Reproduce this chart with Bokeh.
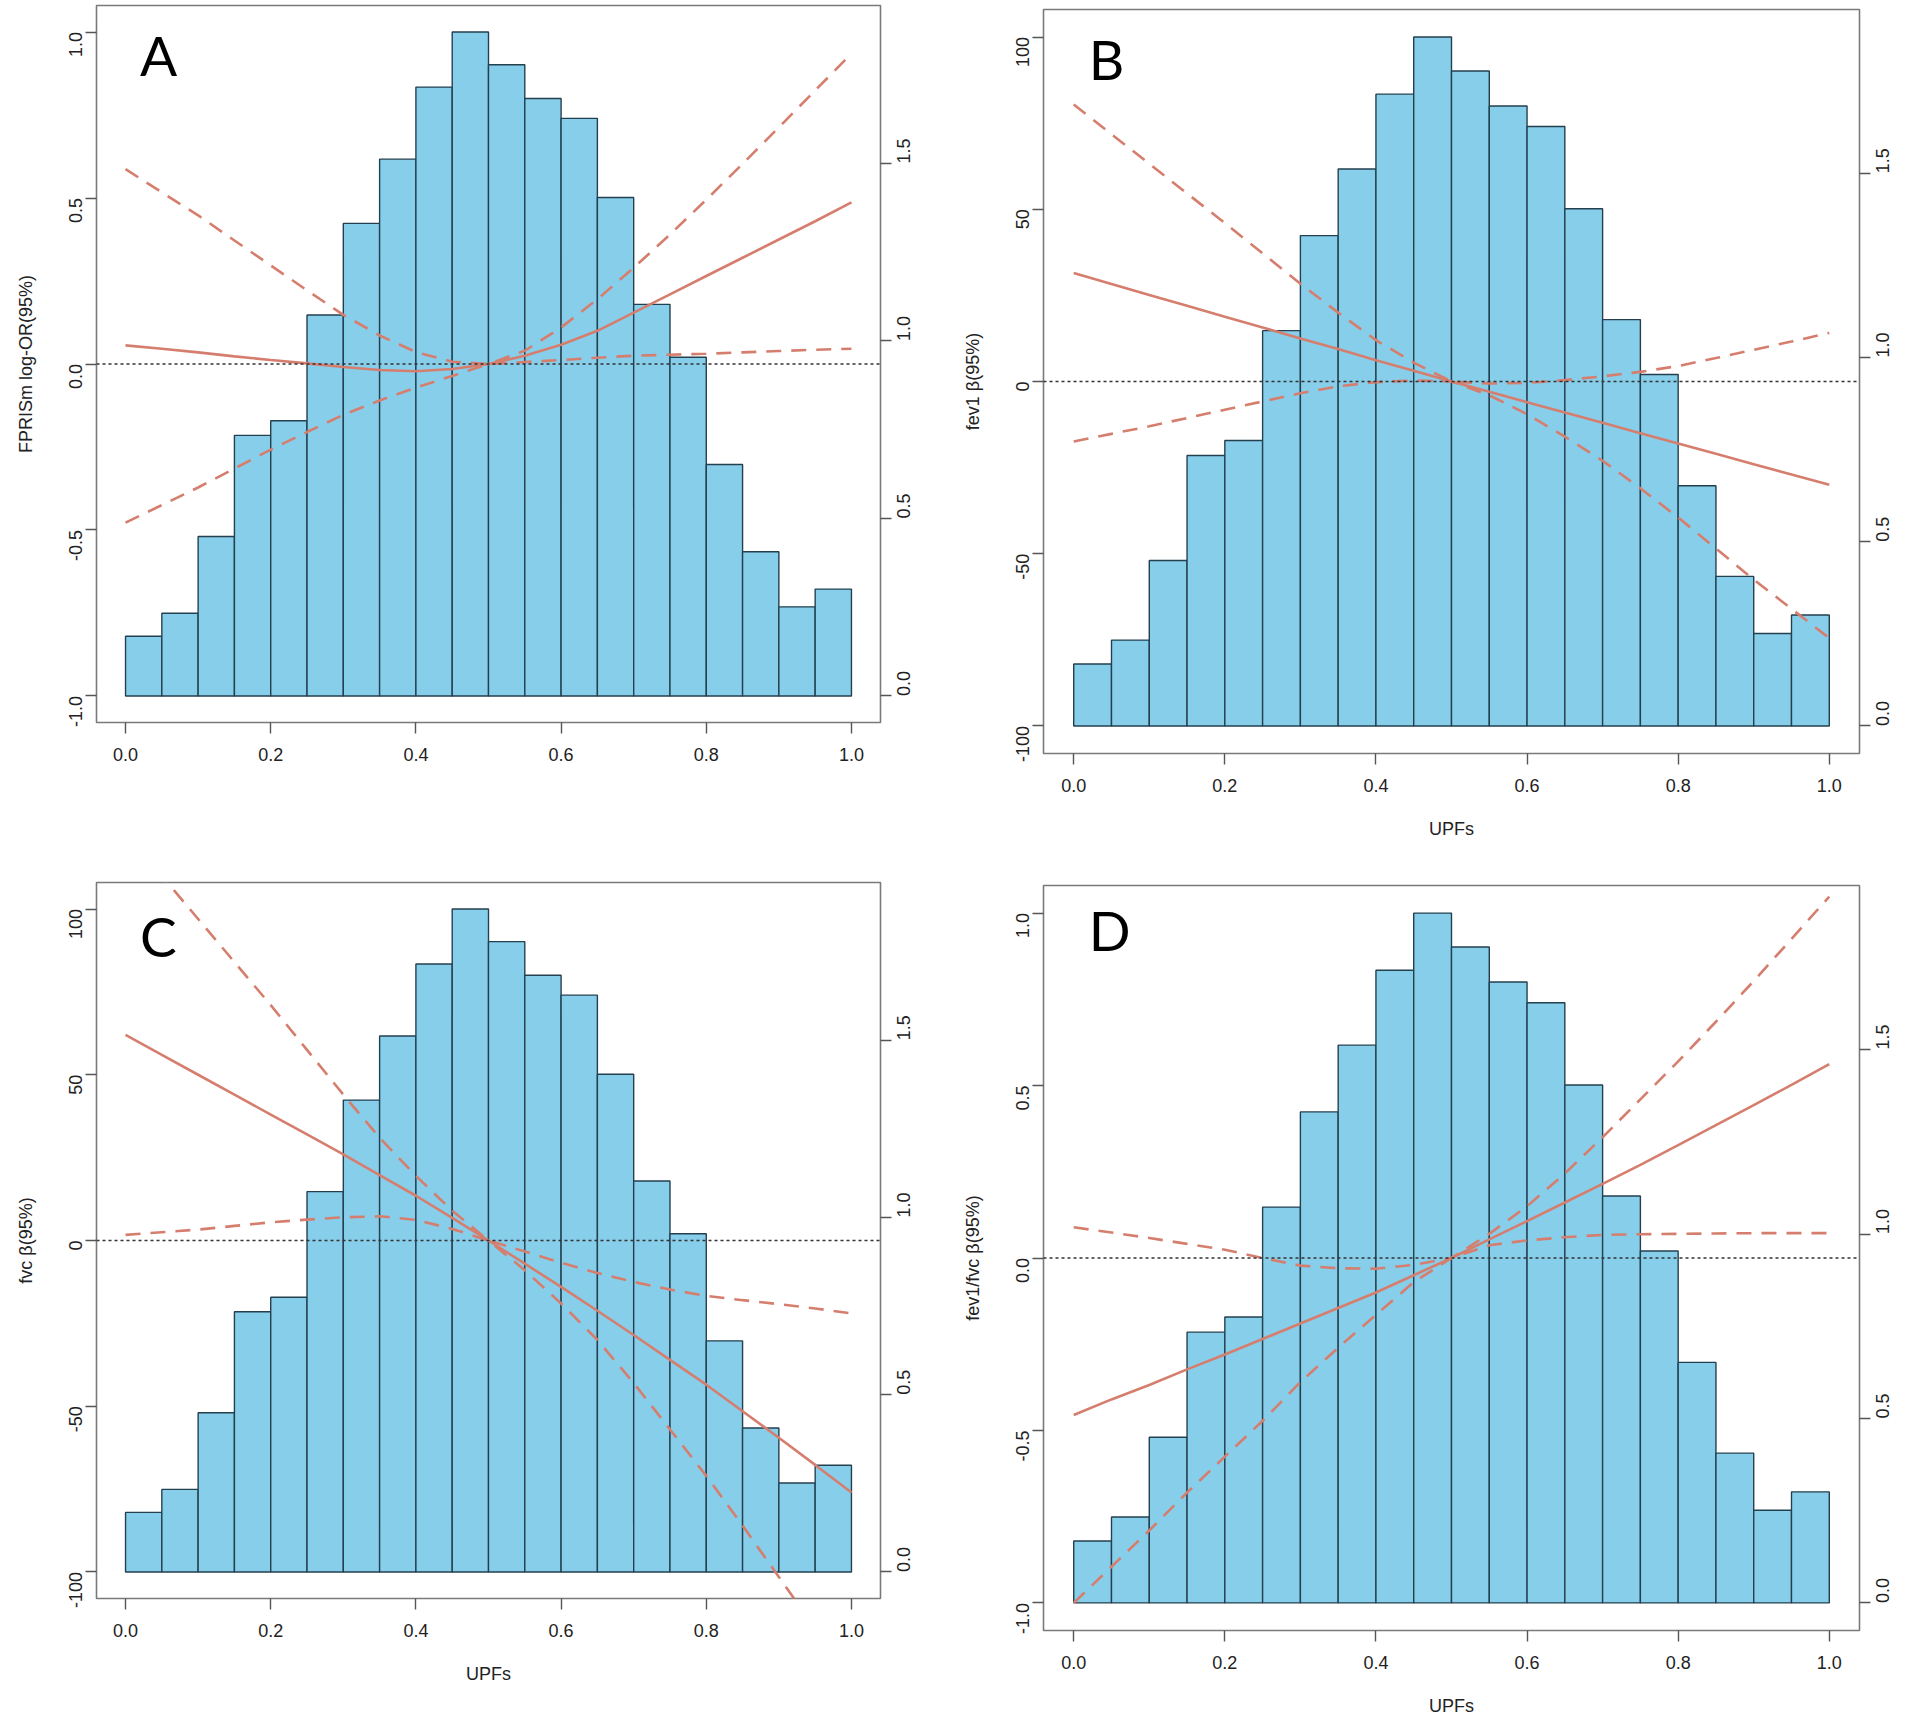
import math
from bokeh.plotting import figure
from bokeh.models import Range1d, LinearAxis, FixedTicker, PrintfTickFormatter, Span, Label
from bokeh.layouts import row, column
from bokeh.embed import file_html
from bokeh.resources import INLINE

# ---------------- data ----------------
bin_left = [0.00, 0.05, 0.10, 0.15, 0.20, 0.25, 0.30, 0.35, 0.40, 0.45,
            0.50, 0.55, 0.60, 0.65, 0.70, 0.75, 0.80, 0.85, 0.90, 0.95]
bin_right = [0.05, 0.10, 0.15, 0.20, 0.25, 0.30, 0.35, 0.40, 0.45, 0.50,
             0.55, 0.60, 0.65, 0.70, 0.75, 0.80, 0.85, 0.90, 0.95, 1.00]
# histogram density of UPFs (right axis)
density = [0.168, 0.233, 0.449, 0.734, 0.775, 1.073, 1.331, 1.512, 1.715, 1.870,
           1.778, 1.683, 1.627, 1.404, 1.103, 0.954, 0.652, 0.406, 0.251, 0.301]

upfs = [0.00, 0.05, 0.10, 0.15, 0.20, 0.25, 0.30, 0.35, 0.40, 0.45, 0.50,
        0.55, 0.60, 0.65, 0.70, 0.75, 0.80, 0.85, 0.90, 0.95, 1.00]

A_fit = [0.056, 0.046, 0.035, 0.023, 0.012, 0.002, -0.009, -0.018, -0.022, -0.015, 0.0,
         0.025, 0.058, 0.100, 0.155, 0.210, 0.265, 0.320, 0.375, 0.430, 0.487]
A_upper = [0.587, 0.517, 0.448, 0.372, 0.297, 0.222, 0.148, 0.086, 0.036, 0.007, 0.0,
           0.040, 0.110, 0.195, 0.290, 0.390, 0.495, 0.603, 0.713, 0.824, 0.935]
A_lower = [-0.478, -0.425, -0.372, -0.315, -0.258, -0.205, -0.153, -0.110, -0.071, -0.036, 0.0,
           0.006, 0.012, 0.019, 0.025, 0.028, 0.031, 0.035, 0.039, 0.043, 0.046]

B_fit = [31.5, 28.3, 25.1, 22.0, 18.8, 15.7, 12.5, 9.4, 6.2, 3.1, 0.0,
         -3.0, -6.0, -9.0, -12.0, -15.0, -18.0, -21.0, -24.0, -27.0, -30.0]
B_upper = [80.4, 71.8, 63.2, 54.6, 46.0, 37.2, 28.4, 20.0, 12.0, 5.5, 0.0,
           -0.6, -0.4, 0.4, 1.5, 2.8, 4.5, 6.8, 9.2, 11.6, 14.1]
B_lower = [-17.4, -15.2, -13.0, -10.6, -8.2, -5.8, -3.4, -1.4, -0.2, 0.3, 0.0,
           -4.0, -9.5, -16.0, -23.0, -31.0, -39.5, -48.5, -57.5, -66.0, -74.5]

C_fit = [62.0, 56.0, 50.0, 44.0, 38.0, 32.0, 26.0, 19.7, 13.5, 6.8, 0.0,
         -7.0, -14.0, -21.2, -28.5, -36.0, -43.5, -51.5, -59.5, -67.7, -76.0]
C_upper = [123.0, 110.0, 97.0, 84.0, 71.0, 57.5, 44.0, 31.0, 19.5, 9.0, 0.0,
           -3.3, -6.7, -9.8, -12.5, -14.8, -16.7, -18.0, -19.2, -20.5, -22.0]
C_lower = [1.7, 2.5, 3.3, 4.4, 5.5, 6.3, 7.0, 7.3, 6.2, 3.5, 0.0,
           -9.0, -19.0, -30.0, -43.0, -57.0, -71.0, -86.0, -101.5, -117.0, -133.0]

D_fit = [-0.455, -0.410, -0.368, -0.323, -0.280, -0.235, -0.190, -0.145, -0.100, -0.050, 0.0,
         0.054, 0.107, 0.161, 0.215, 0.270, 0.327, 0.385, 0.443, 0.502, 0.562]
D_upper = [0.089, 0.074, 0.058, 0.041, 0.024, 0.000, -0.022, -0.030, -0.031, -0.020, 0.0,
           0.070, 0.150, 0.245, 0.350, 0.460, 0.570, 0.685, 0.803, 0.925, 1.048]
D_lower = [-1.000, -0.895, -0.790, -0.680, -0.576, -0.472, -0.360, -0.260, -0.165, -0.070, 0.0,
           0.037, 0.051, 0.060, 0.067, 0.069, 0.070, 0.071, 0.072, 0.072, 0.072]

x_ticks = [0.0, 0.2, 0.4, 0.6, 0.8, 1.0]
dens_ticks = [0.0, 0.5, 1.0, 1.5]
unit_ticks = [-1.0, -0.5, 0.0, 0.5, 1.0]
beta_ticks = [-100, -50, 0, 50, 100]

FONT = "Liberation Sans"
LINE_COL = "#D67E6E"
TXT = "#222222"


def style_axis(ax):
    ax.axis_line_color = None
    ax.major_tick_line_color = "#555555"
    ax.major_tick_line_width = 1.4
    ax.major_tick_out = 11
    ax.major_tick_in = 0
    ax.minor_tick_line_color = None
    ax.major_label_text_font = FONT
    ax.major_label_text_font_size = "18px"
    ax.major_label_text_color = TXT
    ax.major_label_standoff = 11
    ax.axis_label_text_font = FONT
    ax.axis_label_text_font_size = "18px"
    ax.axis_label_text_font_style = "normal"
    ax.axis_label_text_color = TXT


def panel(w, h, bl, br, bt, bb, ymax, yticks, yfmt, ylabel, xlabel,
          fit, upper, lower, letter, letter_y):
    p = figure(width=w, height=h, x_range=Range1d(-0.04, 1.04),
               y_range=Range1d(-ymax * 1.08, ymax * 1.08),
               output_backend="svg", toolbar_location=None,
               min_border_left=bl, min_border_right=br,
               min_border_top=bt, min_border_bottom=bb)
    p.grid.visible = False
    p.outline_line_color = "#7a7a7a"
    p.outline_line_width = 1.6
    p.background_fill_color = "white"
    p.border_fill_color = "white"

    p.extra_y_ranges = {"dens": Range1d(-0.08 * 1.87 / 2, 2.08 * 1.87 / 2)}
    rax = LinearAxis(y_range_name="dens", ticker=FixedTicker(ticks=dens_ticks),
                     formatter=PrintfTickFormatter(format="%.1f"))
    p.add_layout(rax, "right")
    style_axis(rax)
    rax.major_label_orientation = math.pi / 2
    rax.major_label_standoff = 12

    p.xaxis.ticker = FixedTicker(ticks=x_ticks)
    p.xaxis.formatter = PrintfTickFormatter(format="%.1f")
    p.yaxis[0].ticker = FixedTicker(ticks=yticks)
    p.yaxis[0].formatter = PrintfTickFormatter(format=yfmt)
    for ax in p.xaxis:
        style_axis(ax)
        ax.major_label_standoff = 14
        ax.axis_label_standoff = 24
    style_axis(p.yaxis[0])
    p.yaxis[0].major_label_orientation = math.pi / 2
    p.yaxis[0].axis_label_standoff = 24
    p.yaxis[0].major_label_standoff = 10
    p.yaxis[0].axis_label = ylabel
    if xlabel:
        p.xaxis.axis_label = xlabel

    p.quad(left=bin_left, right=bin_right, bottom=0, top=density,
           y_range_name="dens", fill_color="#87CEEB", line_color="#24404f",
           line_width=1.4)

    p.add_layout(Span(location=0, dimension="width", line_color="#333333",
                      line_width=1.3, line_dash="3 3"))

    p.line(upfs, fit, line_color=LINE_COL, line_width=2.6)
    p.line(upfs, upper, line_color=LINE_COL, line_width=2.6, line_dash="15 10")
    p.line(upfs, lower, line_color=LINE_COL, line_width=2.6, line_dash="15 10")

    p.add_layout(Label(x=0.02, y=letter_y, text=letter, text_font="Lato",
                       text_font_size="55px", text_color="black",
                       text_baseline="alphabetic", text_align="left"))
    return p


pA = panel(946, 868, 96, 66, 5, 146, 1.0, unit_ticks, "%.1f",
           "FPRISm log-OR(95%)", None, A_fit, A_upper, A_lower, "A", 0.93)
pB = panel(959, 868, 97, 46, 9, 115, 100, beta_ticks, "%d",
           "fev1 β(95%)", "UPFs", B_fit, B_upper, B_lower, "B", 93.5)
pC = panel(946, 857, 96, 66, 14, 127, 100, beta_ticks, "%d",
           "fvc β(95%)", "UPFs", C_fit, C_upper, C_lower, "C", 92.0)
pD = panel(959, 857, 97, 46, 17, 95, 1.0, unit_ticks, "%.1f",
           "fev1/fvc β(95%)", "UPFs", D_fit, D_upper, D_lower, "D", 0.95)

layout = row(column(pA, pC), column(pB, pD))
open("out.html", "w").write(file_html(layout, INLINE))
